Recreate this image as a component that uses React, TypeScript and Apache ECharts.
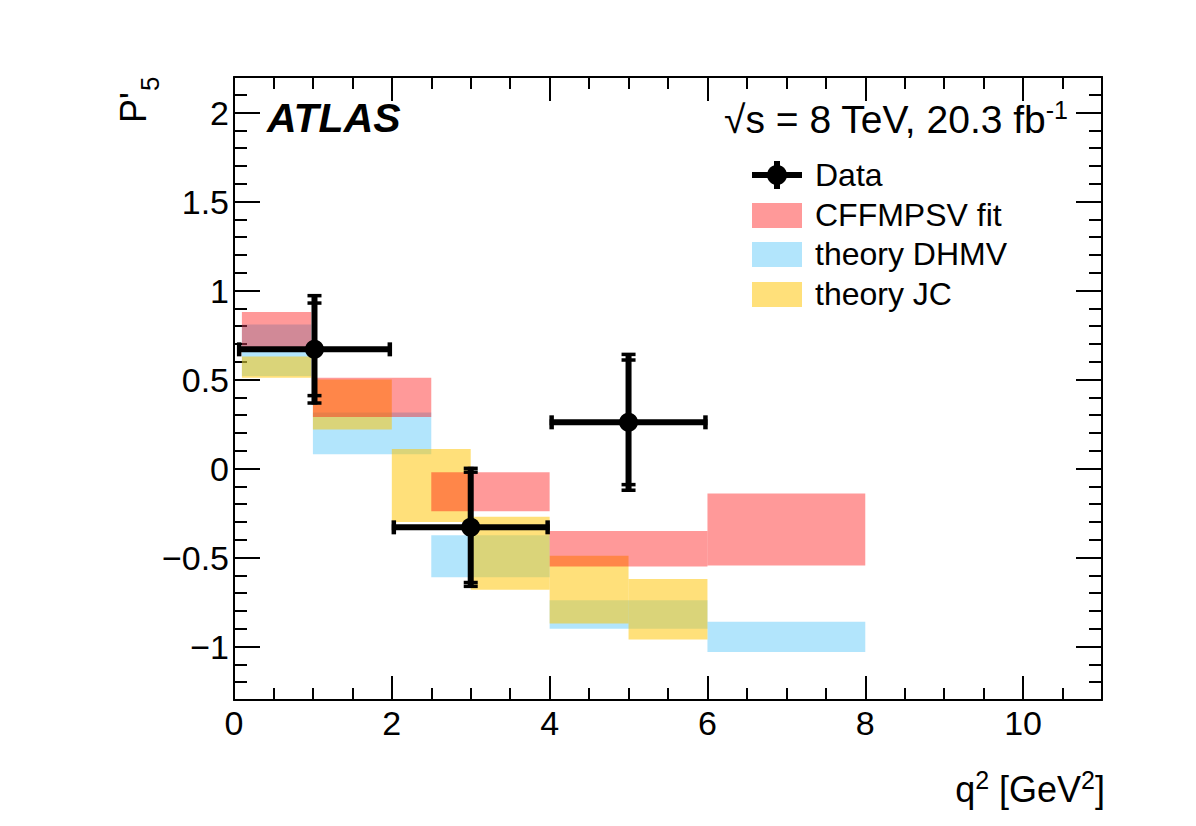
import React, { useEffect, useRef } from "react";
import * as echarts from "echarts";

// ---------- data ----------
// Data points (ATLAS)
const dataX = [1.02, 3, 5];
const dataXLow = [0.04, 2, 4];
const dataXHigh = [2, 4, 6];
const dataY = [0.67, -0.33, 0.26];
const dataStatErr = [0.26, 0.31, 0.35];
const dataTotalErr = [0.31, 0.34, 0.39];

// theory DHMV (blue)
const dhmvBins = [[0.1, 0.98], [1.0, 2.5], [2.5, 4], [4, 6], [6, 8]];
const dhmvLow = [0.52, 0.08, -0.61, -0.9, -1.03];
const dhmvHigh = [0.81, 0.315, -0.375, -0.74, -0.86];

// theory JC (yellow)
const jcBins = [[0.1, 0.98], [1.0, 2.0], [2, 3], [3, 4], [4, 5], [5, 6]];
const jcLow = [0.51, 0.22, -0.3, -0.68, -0.87, -0.96];
const jcHigh = [0.63, 0.5, 0.11, -0.27, -0.49, -0.62];

// CFFMPSV fit (red)
const cffBins = [[0.1, 0.98], [1.0, 2.5], [2.5, 4], [4, 6], [6, 8]];
const cffLow = [0.67, 0.29, -0.24, -0.55, -0.545];
const cffHigh = [0.88, 0.51, -0.02, -0.35, -0.14];

// axes
const xMin = 0;
const xMax = 11;
const yMin = -1.3;
const yMax = 2.2;
const xMajorTicks = [0, 2, 4, 6, 8, 10];
const xMinorTicks = [0.5, 1, 1.5, 2.5, 3, 3.5, 4.5, 5, 5.5, 6.5, 7, 7.5, 8.5, 9, 9.5, 10.5];
const yMajorTicks = [-1, -0.5, 0, 0.5, 1, 1.5, 2];
const yMinorTicks = [
  -1.3, -1.2, -1.1, -0.9, -0.8, -0.7, -0.6, -0.4, -0.3, -0.2, -0.1,
  0.1, 0.2, 0.3, 0.4, 0.6, 0.7, 0.8, 0.9, 1.1, 1.2, 1.3, 1.4, 1.6, 1.7, 1.8, 1.9, 2.1, 2.2,
];

const legendLabels = ["Data", "CFFMPSV fit", "theory DHMV", "theory JC"];

const FONT = '"Liberation Sans", Arial, Helvetica, sans-serif';
const RED = "rgba(255,0,0,0.4)";
const BLUE = "rgba(0,168,245,0.3)";
const YELLOW = "rgba(255,196,0,0.52)";

const fmt = (v: number) => (v < 0 ? "\u2212" + String(Math.abs(v)) : String(v));

function makeAxis(
  dim: "x" | "y",
  position: string,
  ticks: number[],
  len: number,
  showLine: boolean,
  showLabel: boolean
) {
  return {
    type: "value",
    gridIndex: 0,
    position,
    min: dim === "x" ? xMin : yMin,
    max: dim === "x" ? xMax : yMax,
    axisLine: { show: showLine, onZero: false, lineStyle: { color: "#000", width: 2 } },
    axisTick: {
      show: true,
      inside: true,
      length: len,
      customValues: ticks,
      lineStyle: { color: "#000", width: 2 },
    },
    axisLabel: {
      show: showLabel,
      customValues: ticks,
      formatter: (v: number) => fmt(v),
      fontSize: 34,
      color: "#000",
      fontFamily: FONT,
      margin: dim === "x" ? 6 : 5,
    },
    splitLine: { show: false },
    minorTick: { show: false },
    minorSplitLine: { show: false },
  };
}

function boxSeries(name: string, bins: number[][], lo: number[], hi: number[], color: string) {
  return {
    name,
    type: "custom",
    xAxisIndex: 0,
    yAxisIndex: 0,
    encode: { x: [0, 1], y: [2, 3] },
    data: bins.map((b, i) => [b[0], b[1], lo[i], hi[i]]),
    renderItem: (params: any, api: any) => {
      const p0 = api.coord([api.value(0), api.value(3)]);
      const p1 = api.coord([api.value(1), api.value(2)]);
      return {
        type: "rect",
        shape: { x: p0[0], y: p0[1], width: p1[0] - p0[0], height: p1[1] - p0[1] },
        style: { fill: color, stroke: null },
      };
    },
  };
}

export default function App() {
  const ref = useRef<HTMLDivElement>(null);

  useEffect(() => {
    document.body.style.margin = "0";
    if (!ref.current) return;
    const chart = echarts.init(ref.current, undefined, { renderer: "svg" });

    const errData = dataX.map((x, i) => [
      x,
      dataY[i],
      dataXLow[i],
      dataXHigh[i],
      dataStatErr[i],
      dataTotalErr[i],
    ]);

    const legendX = 752;
    const legendTextX = 815;
    const legendRowY = [175, 215, 254, 294];
    const legendColors = [null, RED, BLUE, YELLOW];

    const graphic: any[] = [];
    // ATLAS label
    graphic.push({
      type: "text",
      x: 267,
      y: 118,
      style: {
        text: "ATLAS",
        font: `italic bold 41px ${FONT}`,
        fill: "#000",
        align: "left",
        verticalAlign: "middle",
      },
    });
    // energy / lumi
    graphic.push({
      type: "text",
      x: 1068,
      y: 118,
      style: {
        text: "{n|\u221As = 8 TeV, 20.3 fb}{s|-1}",
        align: "right",
        verticalAlign: "middle",
        rich: {
          n: { fontSize: 39, fontFamily: FONT, fill: "#000", lineHeight: 42, verticalAlign: "bottom" },
          s: { fontSize: 25, fontFamily: FONT, fill: "#000", lineHeight: 25, verticalAlign: "top" },
        },
      },
    });
    // legend
    legendLabels.forEach((lab, i) => {
      const y = legendRowY[i];
      if (i === 0) {
        graphic.push({
          type: "line",
          shape: { x1: legendX, y1: y, x2: legendX + 50, y2: y },
          style: { stroke: "#000", lineWidth: 6 },
        });
        graphic.push({
          type: "line",
          shape: { x1: legendX + 25, y1: y - 14, x2: legendX + 25, y2: y + 14 },
          style: { stroke: "#000", lineWidth: 6 },
        });
        graphic.push({
          type: "circle",
          shape: { cx: legendX + 25, cy: y, r: 10 },
          style: { fill: "#000" },
        });
      } else {
        graphic.push({
          type: "rect",
          shape: { x: legendX, y: y - 12, width: 50, height: 25 },
          style: { fill: legendColors[i] },
        });
      }
      graphic.push({
        type: "text",
        x: legendTextX,
        y,
        style: {
          text: lab,
          font: `32px ${FONT}`,
          fill: "#000",
          align: "left",
          verticalAlign: "middle",
        },
      });
    });
    // axis titles
    graphic.push({
      type: "text",
      x: 1105,
      y: 787,
      style: {
        text: "{n|q}{s|2}{n| [GeV}{s|2}{n|]}",
        align: "right",
        verticalAlign: "middle",
        rich: {
          n: { fontSize: 36, fontFamily: FONT, fill: "#000", lineHeight: 40, verticalAlign: "bottom" },
          s: { fontSize: 25, fontFamily: FONT, fill: "#000", lineHeight: 25, verticalAlign: "top" },
        },
      },
    });
    graphic.push({
      type: "text",
      x: 133,
      y: 123,
      rotation: Math.PI / 2,
      style: {
        text: "P'",
        font: `36px ${FONT}`,
        fill: "#000",
        align: "left",
        verticalAlign: "middle",
      },
    });
    graphic.push({
      type: "text",
      x: 150,
      y: 91,
      rotation: Math.PI / 2,
      style: {
        text: "5",
        font: `26px ${FONT}`,
        fill: "#000",
        align: "left",
        verticalAlign: "middle",
      },
    });

    const option: any = {
      animation: false,
      backgroundColor: "#ffffff",
      grid: { left: 234, top: 77, right: 94, bottom: 126 },
      xAxis: [
        makeAxis("x", "bottom", xMajorTicks, 24, true, true),
        makeAxis("x", "bottom", xMinorTicks, 12, false, false),
        makeAxis("x", "top", xMajorTicks, 24, true, false),
        makeAxis("x", "top", xMinorTicks, 12, false, false),
      ],
      yAxis: [
        makeAxis("y", "left", yMajorTicks, 26, true, true),
        makeAxis("y", "left", yMinorTicks, 13, false, false),
        makeAxis("y", "right", yMajorTicks, 26, true, false),
        makeAxis("y", "right", yMinorTicks, 13, false, false),
      ],
      series: [
        boxSeries("theory DHMV", dhmvBins, dhmvLow, dhmvHigh, BLUE),
        boxSeries("theory JC", jcBins, jcLow, jcHigh, YELLOW),
        boxSeries("CFFMPSV fit", cffBins, cffLow, cffHigh, RED),
        {
          name: "Data errors",
          type: "custom",
          xAxisIndex: 0,
          yAxisIndex: 0,
          encode: { x: [0, 2, 3], y: 1 },
          data: errData,
          z: 5,
          renderItem: (params: any, api: any) => {
            const x = api.value(0);
            const y = api.value(1);
            const xl = api.value(2);
            const xh = api.value(3);
            const st = api.value(4);
            const tot = api.value(5);
            const c = api.coord([x, y]);
            const pl = api.coord([xl, y]);
            const ph = api.coord([xh, y]);
            const tTop = api.coord([x, y + tot]);
            const tBot = api.coord([x, y - tot]);
            const sTop = api.coord([x, y + st]);
            const sBot = api.coord([x, y - st]);
            const st1 = { stroke: "#000", lineWidth: 6 };
            const capS = { stroke: "#000", lineWidth: 3.5 };
            const hcap = (yy: number) => ({
              type: "line",
              shape: { x1: c[0] - 7, y1: yy, x2: c[0] + 7, y2: yy },
              style: capS,
            });
            return {
              type: "group",
              children: [
                { type: "line", shape: { x1: pl[0], y1: c[1], x2: ph[0], y2: c[1] }, style: st1 },
                { type: "line", shape: { x1: c[0], y1: tTop[1], x2: c[0], y2: tBot[1] }, style: st1 },
                { type: "line", shape: { x1: pl[0] + 2, y1: c[1] - 7, x2: pl[0] + 2, y2: c[1] + 7 }, style: { stroke: "#000", lineWidth: 4.5 } },
                { type: "line", shape: { x1: ph[0] - 2, y1: c[1] - 7, x2: ph[0] - 2, y2: c[1] + 7 }, style: { stroke: "#000", lineWidth: 4.5 } },
                hcap(tTop[1] + 1.5),
                hcap(sTop[1]),
                hcap(tBot[1] - 1.5),
                hcap(sBot[1]),
              ],
            };
          },
        },
        {
          name: "Data",
          type: "scatter",
          xAxisIndex: 0,
          yAxisIndex: 0,
          symbol: "circle",
          symbolSize: 19,
          itemStyle: { color: "#000", opacity: 1 },
          data: dataX.map((x, i) => [x, dataY[i]]),
          z: 6,
        },
      ],
      graphic,
    };

    chart.setOption(option);
    return () => chart.dispose();
  }, []);

  return <div ref={ref} style={{ width: "1196px", height: "826px" }} />;
}
